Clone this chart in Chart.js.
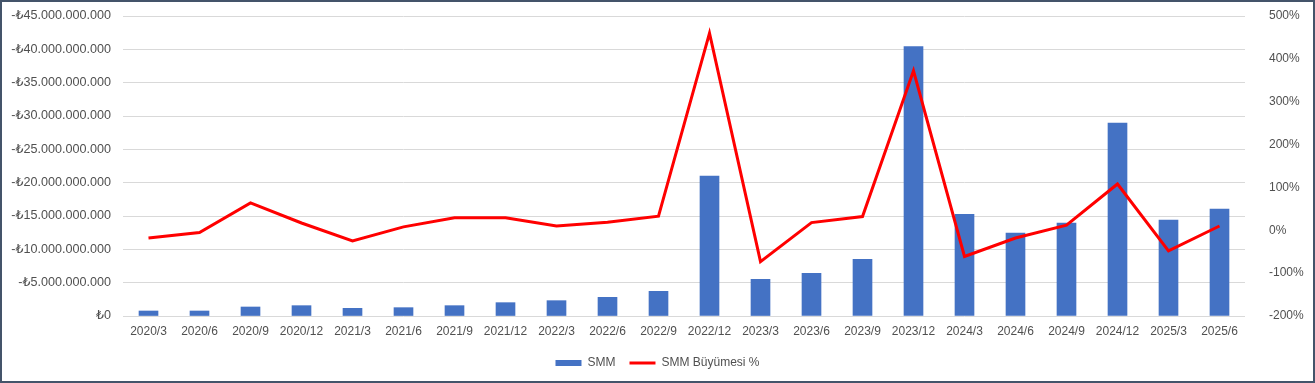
<!DOCTYPE html>
<html><head><meta charset="utf-8">
<script src="https://cdn.jsdelivr.net/npm/chart.js@4/dist/chart.umd.min.js"></script>
<style>
html,body{margin:0;padding:0;background:#fff;}
#wrap{width:1315px;height:383px;box-sizing:border-box;border:2px solid #44546A;position:relative;background:#fff;}
canvas{display:block;}
</style></head><body>
<div id="wrap"><canvas id="c" width="1311" height="379"></canvas></div>
<script>
const categories = ["2020/3","2020/6","2020/9","2020/12","2021/3","2021/6","2021/9","2021/12","2022/3","2022/6","2022/9","2022/12","2023/3","2023/6","2023/9","2023/12","2024/3","2024/6","2024/9","2024/12","2025/3","2025/6"];
// SMM values in billions of TL (shown as negative amounts on the axis)
const smmBillions = [0.75,0.75,1.35,1.55,1.15,1.25,1.55,2.0,2.3,2.8,3.7,21.0,5.5,6.4,8.5,40.4,15.25,12.45,13.95,28.95,14.4,16.05];
const growthPct = [-18,-5,64,17,-25,8,29,29,10,19,33,460,-73,18,32,372,-61,-18,12,108,-48,10];
const leftTicks = [0,5,10,15,20,25,30,35,40,45];
const rightTicks = [-200,-100,0,100,200,300,400,500];

const smmValues = smmBillions.map(v => v * 1e9);
function fmtTL(v){
  if (v === 0) return "₺0";
  const s = Math.round(Math.abs(v)).toString().replace(/\B(?=(\d{3})+(?!\d))/g, ".");
  return "-₺" + s;
}
const FONT = {family:"'Liberation Sans', 'DejaVu Sans', sans-serif", size:12};
const FONT_Y = {family:"'Liberation Sans', 'DejaVu Sans', sans-serif", size:12.6};
const TXT = "#505050";
function noPad(s){ s.paddingTop = 0; s.paddingBottom = 0; }

new Chart(document.getElementById('c'), {
  data: {
    labels: categories,
    datasets: [
      {type:'line', label:'SMM Büyümesi %', data: growthPct, yAxisID:'y2', borderColor:'#FF0000', backgroundColor:'#FF0000', borderWidth:3, pointRadius:0, pointStyle:'line', tension:0, order:0},
      {type:'bar', label:'SMM', data: smmValues, yAxisID:'y', backgroundColor:'#4472C4', borderWidth:0, barThickness:19, pointStyle:'rect', order:1}
    ]
  },
  options: {
    responsive:false, animation:false,
    layout:{padding:{top:14,left:0,right:0,bottom:2}},
    plugins:{
      tooltip:{enabled:false},
      legend:{position:'bottom', reverse:true,
        labels:{usePointStyle:true, pointStyleWidth:26, boxHeight:6, color:TXT, font:FONT, padding:14}}
    },
    scales:{
      x:{grid:{display:false, drawTicks:false}, border:{display:false},
         ticks:{color:TXT, font:FONT, padding:8, maxRotation:0, autoSkip:false},
         afterFit(s){ s.height = 27; s.paddingLeft = 0; s.paddingRight = 0; }},
      y:{position:'left', min:0, max:45e9,
         afterBuildTicks(s){ s.ticks = leftTicks.map(v=>({value:v*1e9})); },
         grid:{color:'#D9D9D9', drawTicks:false, lineWidth:1}, border:{display:false},
         ticks:{color:TXT, font:FONT_Y, padding:12, callback:(v)=>fmtTL(v)},
         afterFit(s){ s.width = 121; noPad(s); }},
      y2:{position:'right', min:-200, max:500,
         afterBuildTicks(s){ s.ticks = rightTicks.map(v=>({value:v})); },
         grid:{display:false, drawTicks:false}, border:{display:false},
         ticks:{color:TXT, font:FONT, padding:24, callback:(v)=>v+'%'},
         afterFit(s){ s.width = 68; noPad(s); }}
    }
  }
});
</script>
</body></html>
